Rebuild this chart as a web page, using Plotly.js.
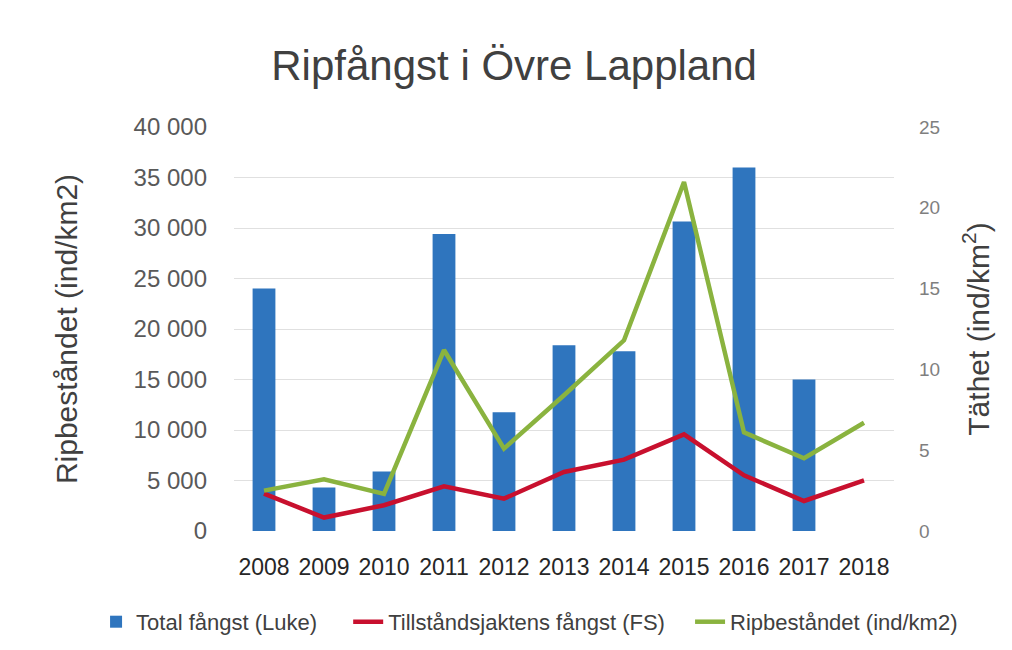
<!DOCTYPE html>
<html><head><meta charset="utf-8">
<script src="https://cdn.plot.ly/plotly-3.0.1.min.js"></script>
<style>html,body{margin:0;padding:0;background:#fff}#c{width:1012px;height:650px}</style>
</head><body><div id="c"></div>
<script>
const years = ['2008','2009','2010','2011','2012','2013','2014','2015','2016','2017','2018'];
const totalFangst = [24000, 4300, 5900, 29400, 11750, 18400, 17800, 30650, 36000, 15000, null];
const tillstandsFangst = [3700, 1330, 2550, 4430, 3200, 5840, 7070, 9570, 5510, 2970, 5020];
const ripbestandet = [2.5, 3.2, 2.3, 11.2, 5.1, 8.4, 11.8, 21.6, 6.1, 4.5, 6.7];
const leftTicks = [0,5000,10000,15000,20000,25000,30000,35000,40000];
const leftTickText = ['0','5 000','10 000','15 000','20 000','25 000','30 000','35 000','40 000'];
const rightTicks = [0,5,10,15,20,25];

const F = 'Liberation Sans, Arial, sans-serif';
const legFont = {family:F, size:22, color:'#404040'};
const data = [
  {type:'bar', x:years, y:totalFangst, name:'Total fångst (Luke)', marker:{color:'#2F75BE'}, yaxis:'y', legend:'legend'},
  {type:'scatter', mode:'lines', x:years, y:tillstandsFangst, name:'Tillståndsjaktens fångst (FS)', line:{color:'#C8102E', width:4.5}, yaxis:'y', legend:'legend2'},
  {type:'scatter', mode:'lines', x:years, y:ripbestandet, name:'Ripbeståndet (ind/km2)', line:{color:'#8AB33F', width:4.5}, yaxis:'y2', legend:'legend3'}
];
const legBase = {orientation:'h', xanchor:'left', y:-0.225, yanchor:'middle', font:legFont, bgcolor:'rgba(0,0,0,0)'};
const layout = {
  width:1012, height:650,
  margin:{l:234, r:118, t:127, b:119, autoexpand:false},
  paper_bgcolor:'#fff', plot_bgcolor:'#fff',
  bargap:0.62,
  showlegend:true,
  title:{text:'Ripfångst i Övre Lappland', font:{family:F, size:42, color:'#404040'}, x:0.508, xanchor:'center', y:0.9, yanchor:'middle'},
  xaxis:{type:'category', tickfont:{family:F, size:23, color:'#262626'}, showgrid:false, zeroline:false, showline:false, ticks:'', ticklabelstandoff:20},
  yaxis:{range:[0,40000], tickvals:leftTicks, ticktext:leftTickText, tickfont:{family:F, size:24, color:'#595959'},
    gridcolor:'#e0e0e0', gridwidth:1, zeroline:false, showline:false, ticks:'', ticklabelstandoff:26,
    title:{text:'Ripbeståndet (ind/km2)', font:{family:F, size:30, color:'#404040'}, standoff:47}},
  yaxis2:{overlaying:'y', side:'right', range:[0,25], tickvals:rightTicks, tickfont:{family:F, size:19, color:'#7f7f7f'},
    showgrid:false, zeroline:false, showline:false, ticks:'', ticklabelstandoff:24,
    title:{text:'Täthet (ind/km<sup>2</sup>)', font:{family:F, size:30, color:'#404040'}, standoff:28}},
  legend:Object.assign({}, legBase, {x:-0.209}),
  legend2:Object.assign({}, legBase, {x:0.173}),
  legend3:Object.assign({}, legBase, {x:0.691})
};
Plotly.newPlot('c', data, layout, {displayModeBar:false, staticPlot:true});
</script></body></html>
